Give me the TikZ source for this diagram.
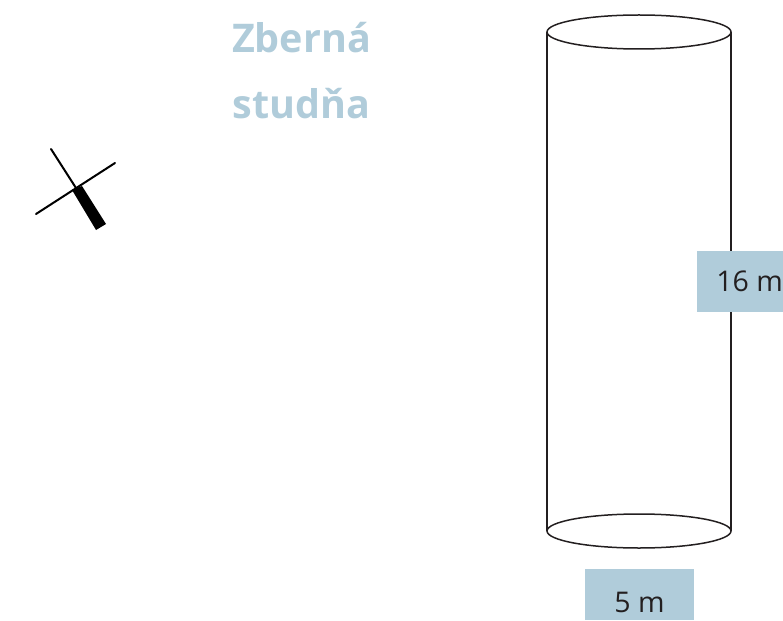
\documentclass[tikz,border=0pt]{standalone}
\usepackage{fontspec}
\setmainfont{Open Sans}
\definecolor{modra}{HTML}{B0CCDA}
\definecolor{ciara}{HTML}{231F20}
\tikzset{
  modrybox/.style={fill=modra, inner sep=0pt},
  popis/.style={text=ciara, font=\fontsize{28.5}{32}\selectfont, inner sep=0pt},
  nadpis/.style={text=modra, align=center, inner sep=0pt, font=\fontsize{39.5}{66}\selectfont\bfseries},
  valec/.style={draw=ciara, line width=1.5pt}
}
\begin{document}
\begin{tikzpicture}[x=1pt, y=-1pt]
\useasboundingbox (0,0) rectangle (783,620);

\node[nadpis] (nazov) at (301.5,71) {Zberná\\studňa};

% studna
\draw[valec] (547,32) -- (547,531);
\draw[valec] (731,32) -- (731,531);
\draw[valec] (639,32) ellipse [x radius=92, y radius=17];
\draw[valec] (639,531) ellipse [x radius=92, y radius=17];

% znacka
\draw[black, line width=2pt, line cap=round] (51,149) -- (76,188);
\draw[black, line width=2pt, line cap=round] (36,214) -- (115,163);
\fill[black] (72,190) -- (82,186) -- (106,224) -- (96,230) -- cycle;

\node[modrybox, minimum width=86pt, minimum height=61pt] (vyskabox) at (740,281.5) {};
\node[popis, anchor=east] (vyska) at (783,281.5) {16 m};
\node[modrybox, minimum width=109pt, minimum height=51pt] (sirkabox) at (639.5,594.5) {};
\node[popis] (sirka) at (639.5,602) {5 m};
\end{tikzpicture}
\end{document}
